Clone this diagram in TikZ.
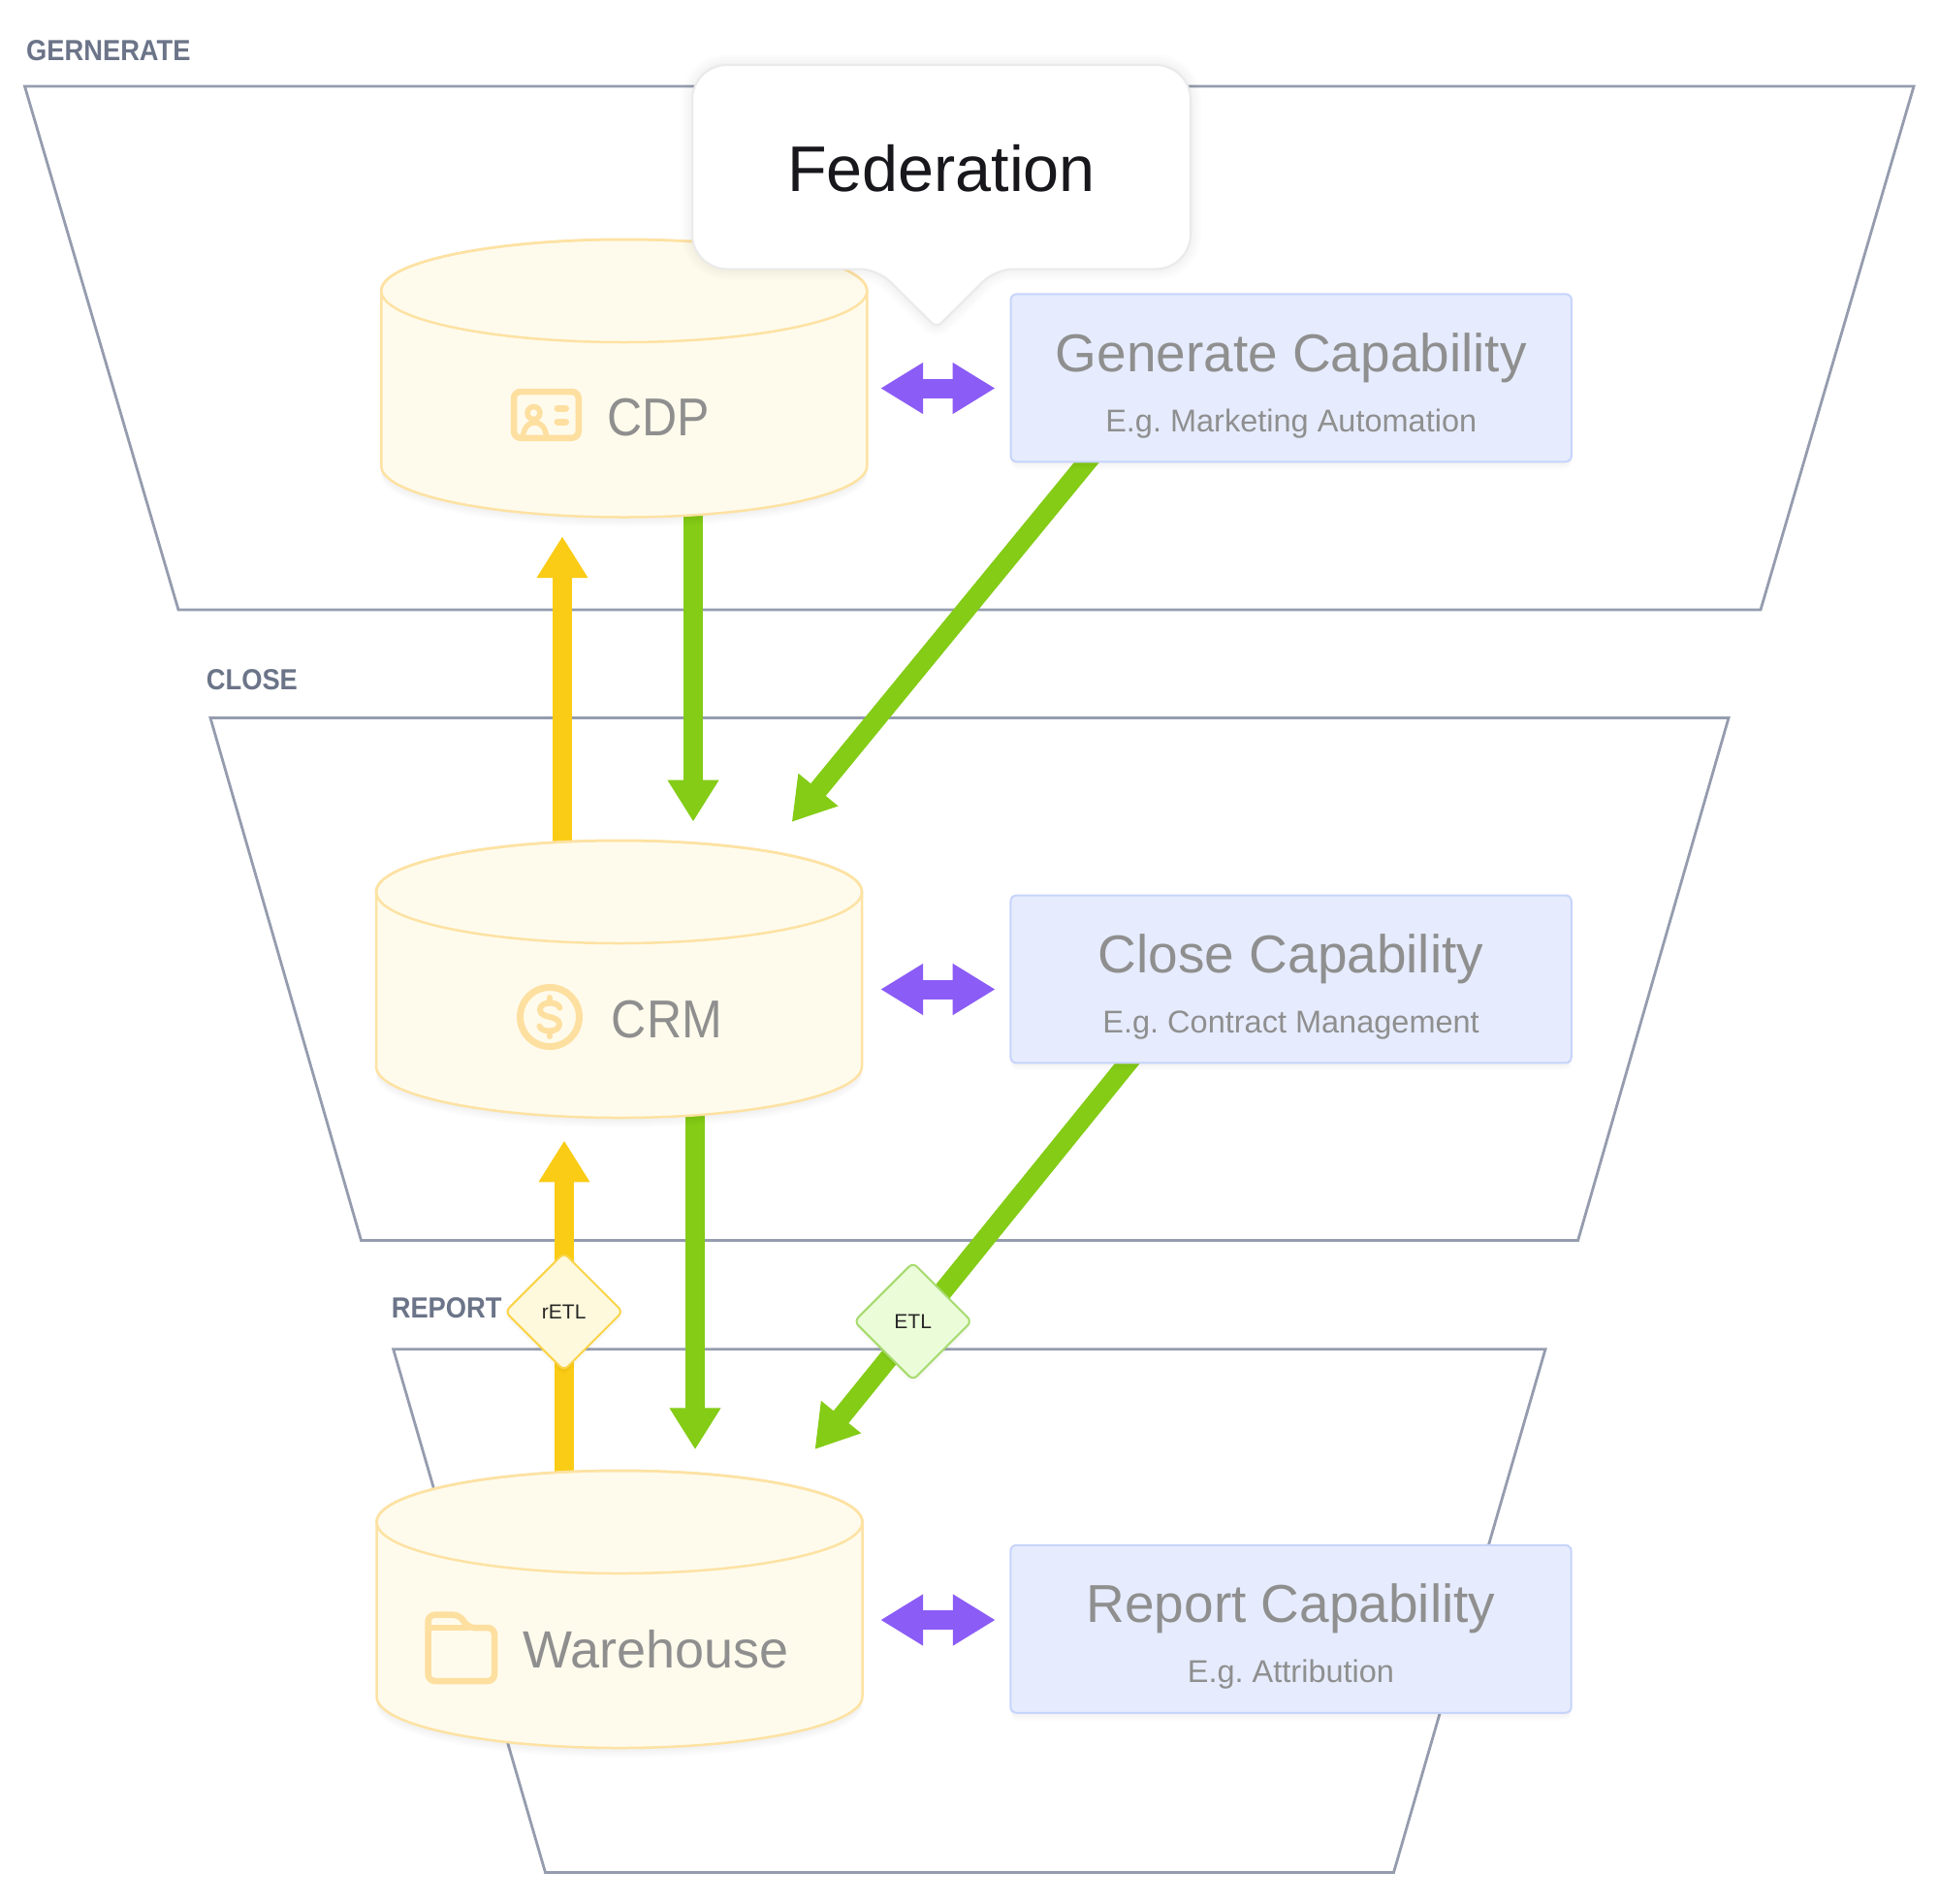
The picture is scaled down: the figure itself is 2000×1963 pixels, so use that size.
\documentclass[tikz,border=0pt]{standalone}
\usepackage{fontspec}
\setmainfont{Liberation Sans}
\newfontfamily\capsfont[FakeStretch=0.91]{Liberation Sans}
\newfontfamily\labelfont[FakeStretch=0.91]{Liberation Sans}
\usetikzlibrary{arrows.meta,shapes.geometric,calc}
\definecolor{trap}{HTML}{959CAE}
\definecolor{lab}{HTML}{6B7488}
\definecolor{cylfill}{HTML}{FFFBEC}
\definecolor{cylline}{HTML}{FDE2A3}
\definecolor{iconc}{HTML}{FDDFA0}
\definecolor{txtgray}{HTML}{8F8F8F}
\definecolor{capfill}{HTML}{E6ECFE}
\definecolor{capline}{HTML}{C7D4FB}
\definecolor{purp}{HTML}{8B5CF6}
\definecolor{grn}{HTML}{84CC16}
\definecolor{yel}{HTML}{FACC15}
\definecolor{retlfill}{HTML}{FEF9DC}
\definecolor{retlline}{HTML}{FAD44A}
\definecolor{etlfill}{HTML}{EBFCD8}
\definecolor{etlline}{HTML}{A6DB6E}
\definecolor{callline}{HTML}{EAEAEA}
\definecolor{fedtext}{HTML}{17171C}
\newcommand\cylpath[3]{(#1-250.5,#2) -- (#1-250.5,#3)
    arc[start angle=180, end angle=0, x radius=250.5, y radius=53]
    -- (#1+250.5,#2)
    arc[start angle=0, end angle=-180, x radius=250.5, y radius=53] -- cycle}
\newcommand\mycyl[3]{%
  \foreach \s in {2,4,6,8,10} {\fill[black, opacity=0.012] \cylpath{#1}{#2+\s}{#3+\s};}
  \path[fill=cylfill, draw=cylline, line width=2.5] \cylpath{#1}{#2}{#3};
  \draw[draw=cylline, line width=2.5] (#1,#2) ellipse [x radius=250.5, y radius=53];
}
\newcommand\mycap[1]{%
  \foreach \s in {2,4,6,8} {\fill[black, opacity=0.01, rounded corners=8] ($(#1.south west)+(0,\s)$) rectangle ($(#1.north east)+(0,\s)$);}
  \draw[draw=capline, fill=capfill, line width=2, rounded corners=6] (#1.south west) rectangle (#1.north east);
}
\newcommand\callpath{[rounded corners=36] (714,170) -- (714,67) -- (1228,67) -- (1228,277.5)
  [rounded corners=18] -- (1027,277.5) [rounded corners=7] -- (966,338)
  [rounded corners=18] -- (905,277.5) [rounded corners=36] -- (714,277.5) -- cycle}
\begin{document}
\frenchspacing
\begin{tikzpicture}[x=1pt, y=-1pt,
  trapz/.style={draw=trap, line width=2.8, line join=miter},
  lbl/.style={inner sep=0, anchor=base west, text=lab, font=\labelfont\bfseries\fontsize{30}{36}\selectfont},
  cylnode/.style={minimum width=501, minimum height=286.5, inner sep=0, draw=none},
  capnode/.style={minimum width=578, minimum height=172.5, inner sep=0, draw=none},
  cyltext/.style={inner sep=0, anchor=base west, text=txtgray},
  icon/.style={draw=iconc, line width=6.5, line cap=round, line join=round},
  bigarrow/.style={line width=20, -{Triangle[width=50pt,length=43pt]}},
  dblarrow/.style={line width=20, draw=purp, {Triangle[width=50pt,length=44pt]}-{Triangle[width=50pt,length=44pt]}},
  captitle/.style={inner sep=0, text=txtgray, anchor=base, font=\fontsize{55}{66}\selectfont},
  capsub/.style={inner sep=0, text=txtgray, anchor=base, font=\fontsize{32.5}{39}\selectfont},
  dmd/.style={diamond, aspect=1, minimum width=122, minimum height=122, inner sep=0, rounded corners=6, line width=2,
     font=\fontsize{21}{25}\selectfont, text=black!85}
]
\fill[white] (0,0) rectangle (2000,1963);
\useasboundingbox (0,0) rectangle (2000,1963);

% funnel levels
\draw[trapz] (25.5,89) -- (1974,89) -- (1816,629) -- (184,629) -- cycle;
\draw[trapz] (217,740.5) -- (1783,740.5) -- (1627.6,1279.5) -- (372.5,1279.5) -- cycle;
\draw[trapz] (405.7,1391.7) -- (1594,1391.7) -- (1437.5,1931.5) -- (562.5,1931.5) -- cycle;
\node[lbl] (lgen) at (27,62.5) {GERNERATE};
\node[lbl] (lclose) at (212.7,711.7) {CLOSE};
\node[lbl] (lrep) at (403.6,1359) {REPORT};

% named places of the stores and capability boxes
\node[cylnode] (cdp) at (643.75,390.25) {};
\node[cylnode] (crm) at (638.5,1010) {};
\node[cylnode] (wh) at (639,1660) {};
\node[capnode] (gen) at (1331.75,389.8) {};
\node[capnode] (cls) at (1331.6,1010) {};
\node[capnode] (rep) at (1331.5,1680.3) {};

% connectors, drawn below the shapes
\draw[bigarrow, yel] ($(crm.north)+(-58.5,23)$) -- ($(cdp.south)+(-63.75,19.5)$);
\draw[bigarrow, yel] ($(wh.north)+(-57,15)$) -- ($(crm.south)+(-56.5,23)$);
\draw[bigarrow, grn] ($(cdp.south)+(71.25,-15)$) -- ($(crm.north)+(76.5,-19)$);
\draw[bigarrow, grn] ($(crm.south)+(78.5,-15)$) -- ($(wh.north)+(78,-21.3)$);
\draw[bigarrow, grn] ($(gen.south)+(-194.75,-19)$) -- ($(crm.north)+(178.2,-18.7)$);
\draw[bigarrow, grn] ($(cls.south)+(-152,-20.3)$) -- ($(wh.north)+(201.5,-21.5)$);

% cylinders
\mycyl{643.75}{300}{480.5}
\mycyl{638.5}{920}{1100}
\mycyl{639}{1570}{1750}

% CDP icon and text
\draw[icon, rounded corners=7] (530,404) rectangle (596.75,451.75);
\draw[icon, line width=5.5] (550.5,426) circle[radius=6.5];
\draw[icon, line width=5.5] (539,451) .. controls (541,440) and (545,436) .. (551.5,436) .. controls (558,436) and (562,440) .. (564,451);
\draw[icon, line width=7] (575,421) -- (583.5,421) (575,435) -- (583.5,435);
\node[cyltext, font=\capsfont\fontsize{55}{66}\selectfont] (cdpt) at (626,449) {CDP};

% CRM icon and text
\draw[icon, line width=7] (567,1049) circle[radius=30.5];
\draw[icon, line width=6] (577.5,1039.5) .. controls (576,1036) and (572,1034.5) .. (567,1034.5) .. controls (561,1034.5) and (557,1037.5) .. (557,1041.5) .. controls (557,1046) and (562,1048) .. (567,1049) .. controls (572,1050) and (577,1052) .. (577,1056.5) .. controls (577,1061) and (572,1063.5) .. (567,1063.5) .. controls (562,1063.5) and (557.5,1062) .. (556.5,1058.5);
\draw[icon, line width=6] (567,1029) -- (567,1034.5) (567,1063.5) -- (567,1069);
\node[cyltext, font=\capsfont\fontsize{55}{66}\selectfont] (crmt) at (630.7,1070) {CRM};

% Warehouse icon and text
\draw[icon, rounded corners=7] (441.6,1734) -- (441.6,1665.6) -- (474,1665.6) -- (482.5,1679) -- (510,1679) -- (510,1734) -- cycle;
\draw[icon] (441.6,1679) -- (482.5,1679);
\node[cyltext, font=\fontsize{54}{65}\selectfont] (wht) at (539.5,1720.7) {Warehouse};

% capability boxes
\mycap{gen}
\mycap{cls}
\mycap{rep}
\node[captitle] (gent) at ($(gen.north)+(0,80)$) {Generate Capability};
\node[capsub] (gens) at ($(gen.north)+(0,142)$) {E.g. Marketing Automation};
\node[captitle] (clst) at ($(cls.north)+(0,79.5)$) {Close Capability};
\node[capsub] (clss) at ($(cls.north)+(0,142)$) {E.g. Contract Management};
\node[captitle] (rept) at ($(rep.north)+(0,80)$) {Report Capability};
\node[capsub] (reps) at ($(rep.north)+(0,141.5)$) {E.g. Attribution};

% federation arrows
\draw[dblarrow] ($(cdp.east)+(13.75,10.25)$) -- ($(gen.west)+(-16,10.7)$);
\draw[dblarrow] ($(crm.east)+(19,10.5)$) -- ($(cls.west)+(-15.7,10.5)$);
\draw[dblarrow] ($(wh.east)+(18.5,11)$) -- ($(rep.west)+(-15.5,-9.3)$);

% ETL diamonds
\foreach \s in {2,4,6} {\fill[black, opacity=0.012, rounded corners=6] (581.7,1292+\s) -- (642.7,1353+\s) -- (581.7,1414+\s) -- (520.7,1353+\s) -- cycle;}
\foreach \s in {2,4,6} {\fill[black, opacity=0.012, rounded corners=6] (941.7,1302+\s) -- (1002.7,1363+\s) -- (941.7,1424+\s) -- (880.7,1363+\s) -- cycle;}
\node[dmd, draw=retlline, fill=retlfill] (retl) at (581.7,1353) {rETL};
\node[dmd, draw=etlline, fill=etlfill] (etl) at (941.7,1363) {ETL};

% federation callout
\foreach \w in {22,16,10,5} {\draw[black, opacity=0.012, line width=\w, line join=round] \callpath;}
\path[fill=white, draw=callline, line width=2] \callpath;
\node[inner sep=0, anchor=base, font=\fontsize{66.5}{80}\selectfont, text=fedtext] (fed) at (971,197) {Federation};
\end{tikzpicture}
\end{document}
